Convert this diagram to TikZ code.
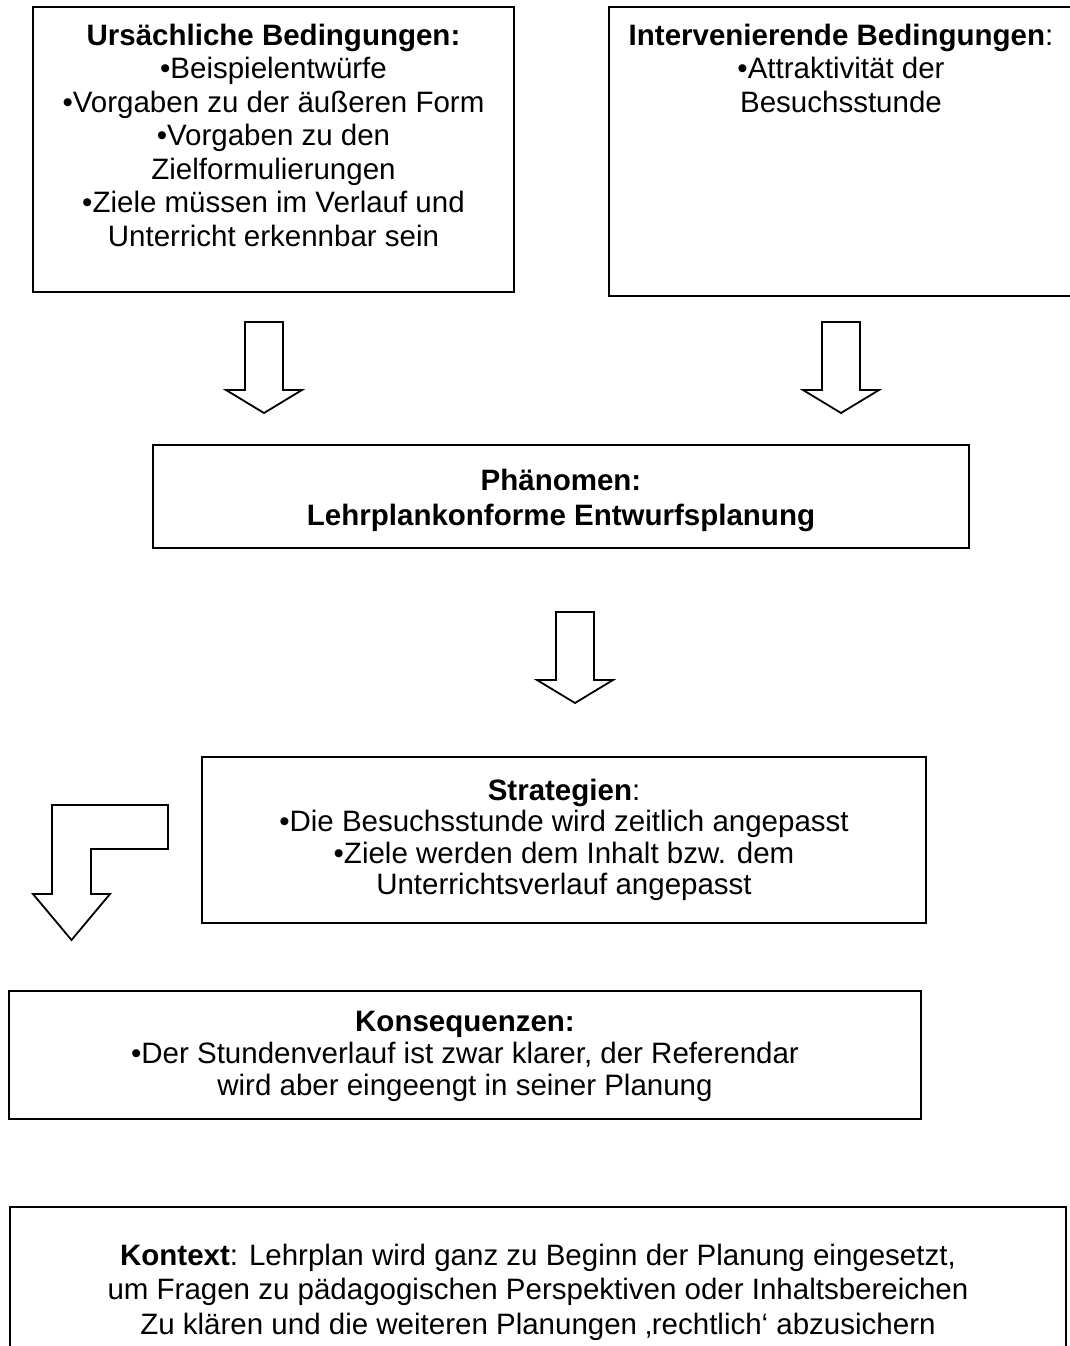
\documentclass[tikz,border=0pt]{standalone}
\usepackage{fontspec}
\setmainfont{Liberation Sans}
\begin{document}
\begin{tikzpicture}[x=1pt,y=-1pt,
  box/.style={draw=black, line width=2pt, rectangle, inner sep=0pt},
  txt/.style={font=\fontsize{29.5}{33.5}\selectfont, align=center, inner sep=0pt},
  blockarrow/.style={draw=black, line width=1.8pt, fill=white, line join=miter}]
\useasboundingbox (0,0) rectangle (1070,1346);

% boxes
\node[box, minimum width=481, minimum height=285] (cause) at (273.5,149.5) {};
\node[box, minimum width=466, minimum height=289] (inter) at (842,151.5) {};
\node[box, minimum width=816, minimum height=103] (phen) at (561,496.5) {};
\node[box, minimum width=724, minimum height=166] (strat) at (564,840) {};
\node[box, minimum width=912, minimum height=128] (cons) at (465,1055) {};
\node[box, minimum width=1056, minimum height=153] (ctx) at (538,1283.5) {};

% texts
\node[txt, anchor=north] (causeT) at (273.5,23.5)
  {\textbf{Ursächliche Bedingungen:}\\
   •Beispielentwürfe\\
   •Vorgaben zu der äußeren Form\\
   •Vorgaben zu den\\
   Zielformulierungen\\
   •Ziele müssen im Verlauf und\\
   Unterricht erkennbar sein};
\node[txt, anchor=north] (interT) at (841,23.5)
  {\textbf{Intervenierende Bedingungen}:\\
   •Attraktivität der\\
   Besuchsstunde};
\node[txt, font=\fontsize{29.5}{35}\selectfont\bfseries] (phenT) at (561,500)
  {Phänomen:\\ Lehrplankonforme Entwurfsplanung};
\node[txt, anchor=north, font=\fontsize{29.5}{31.5}\selectfont] (stratT) at (564,778.5)
  {\textbf{Strategien}:\\
   •Die Besuchsstunde wird zeitlich angepasst\\
   •Ziele werden dem Inhalt bzw. dem\\
   Unterrichtsverlauf angepasst};
\node[txt, font=\fontsize{29.5}{32}\selectfont] (consT) at (465,1056)
  {\textbf{Konsequenzen:}\\
   •Der Stundenverlauf ist zwar klarer, der Referendar\\
   wird aber eingeengt in seiner Planung};
\node[txt, anchor=north, font=\fontsize{29.5}{34.5}\selectfont] (ctxT) at (538,1243.5)
  {\textbf{Kontext}: Lehrplan wird ganz zu Beginn der Planung eingesetzt,\\
   um Fragen zu pädagogischen Perspektiven oder Inhaltsbereichen\\
   Zu klären und die weiteren Planungen ‚rechtlich‘ abzusichern};

% block arrows: shaft 38 wide, head 76 wide
\coordinate (a1) at (264,322);
\coordinate (a2) at (841,322);
\coordinate (a3) at (575,612);
\foreach \c in {a1,a2,a3}{
  \draw[blockarrow] (\c) ++(-19,0) -- ++(38,0) -- ++(0,68) -- ++(19,0)
    -- ++(-38,23) -- ++(-38,-23) -- ++(19,0) -- cycle;
}

% bent arrow down to the consequences
\draw[blockarrow] (52,805) -- (168,805) -- (168,849) -- (91,849) -- (91,894)
  -- (110,894) -- (71.5,940) -- (33,894) -- (52,894) -- cycle;
\end{tikzpicture}
\end{document}
